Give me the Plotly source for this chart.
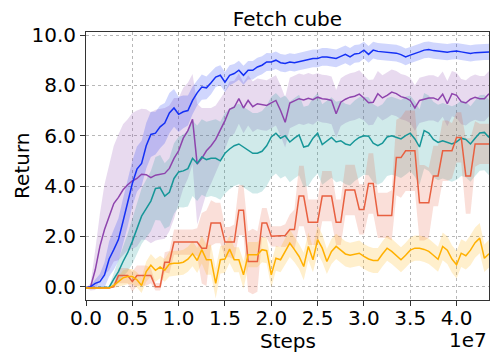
import plotly.graph_objects as go

# env steps, one sample every 5e5
steps = list(range(0, 44_000_000, 500_000))

blue_mean = [
    -0.05, 0.0, 0.13, 0.2, 0.47, 1.1, 1.47, 1.87, 2.6, 3.3,
    4.1, 4.67, 4.9, 5.6, 6.05, 6.1, 6.35, 6.5, 6.9, 7.1,
    6.85, 6.95, 7.0, 7.4, 7.7, 7.93, 7.9, 8.1, 8.33, 8.4,
    8.13, 8.4, 8.47, 8.6, 8.4, 8.6, 8.6, 8.73, 8.8, 8.93,
    8.93, 9.0, 8.9, 8.87, 8.93, 8.9, 8.95, 9.0, 9.05, 9.07,
    9.07, 9.13, 9.13, 9.1, 9.07, 9.15, 9.23, 9.13, 9.25, 9.27,
    9.4, 9.23, 9.4, 9.35, 9.33, 9.33, 9.3, 9.28, 9.22, 9.13,
    9.2, 9.28, 9.33, 9.4, 9.42, 9.38, 9.36, 9.33, 9.32, 9.35,
    9.36, 9.33, 9.3, 9.27, 9.3, 9.32, 9.33, 9.33,
]
blue_std = [
    0.0, 0.05, 0.15, 0.3, 0.5, 0.7, 0.8, 0.85, 0.9, 0.9,
    0.9, 0.9, 0.9, 0.9, 0.9, 0.85, 0.85, 0.8, 0.8, 0.75,
    0.7, 0.65, 0.6, 0.55, 0.5, 0.5, 0.45, 0.45, 0.4, 0.4,
    0.4, 0.4, 0.38, 0.38, 0.38, 0.37, 0.37, 0.37, 0.36, 0.36,
    0.35, 0.35, 0.35, 0.35, 0.35, 0.35, 0.35, 0.35, 0.35, 0.35,
    0.35, 0.35, 0.35, 0.35, 0.35, 0.35, 0.35, 0.35, 0.35, 0.35,
    0.33, 0.33, 0.33, 0.33, 0.33, 0.33, 0.33, 0.33, 0.33, 0.33,
    0.32, 0.32, 0.32, 0.32, 0.32, 0.32, 0.32, 0.32, 0.32, 0.32,
    0.32, 0.32, 0.32, 0.32, 0.32, 0.32, 0.32, 0.32,
]

purple_mean = [
    -0.05, 0.0, 0.67, 1.6, 2.27, 2.75, 3.3, 3.55, 3.85, 4.05,
    4.2, 4.3, 4.47, 4.45, 4.33, 4.43, 4.47, 4.5, 4.7, 5.1,
    5.4, 5.9, 6.2, 6.65, 4.87, 5.1, 5.4, 5.6, 5.85, 6.2,
    6.6, 7.05, 7.13, 7.47, 7.1, 7.4, 7.15, 7.27, 7.22, 7.2,
    7.3, 7.4, 7.0, 6.53, 7.3, 7.4, 7.47, 7.42, 7.49, 7.43,
    7.53, 7.47, 7.45, 7.4, 6.87, 7.33, 7.45, 7.53, 7.57, 7.65,
    7.5, 7.31, 7.33, 7.67, 7.5, 7.6, 7.73, 7.67, 7.55, 7.5,
    7.4, 7.1, 7.4, 7.45, 7.5, 7.5, 7.42, 7.65, 7.27, 7.67,
    7.6, 7.35, 7.3, 7.45, 7.53, 7.47, 7.47, 7.67,
]
purple_std = [
    0.0, 0.15, 0.8, 1.3, 1.8, 2.1, 2.3, 2.5, 2.6, 2.6,
    2.7, 2.7, 2.6, 2.6, 2.6, 2.6, 2.6, 2.6, 2.5, 2.4,
    2.1, 2.0, 1.9, 1.8, 2.4, 2.0, 1.7, 1.5, 1.35, 1.25,
    1.15, 1.1, 1.05, 1.0, 1.0, 1.0, 1.0, 1.0, 1.0, 1.0,
    1.0, 1.0, 1.0, 1.0, 1.0, 1.0, 1.0, 1.0, 1.0, 1.0,
    0.95, 0.95, 0.95, 0.95, 0.95, 0.95, 0.95, 0.95, 0.95, 0.95,
    0.9, 0.9, 0.9, 0.9, 0.9, 0.9, 0.9, 0.9, 0.9, 0.9,
    0.9, 0.9, 0.9, 0.9, 0.9, 0.9, 0.9, 0.9, 0.9, 0.9,
    0.9, 0.9, 0.9, 0.9, 0.9, 0.9, 0.9, 0.9,
]

teal_mean = [
    -0.05, -0.05, -0.05, -0.05, -0.05, -0.02, 0.3, 0.6, 1.0, 1.35,
    1.8, 2.27, 2.8, 3.1, 3.4, 3.9, 3.93, 3.6, 3.75, 4.3,
    4.56, 4.6, 4.69, 5.1, 4.9, 5.15, 5.05, 5.1, 5.1, 5.0,
    5.3, 5.47, 5.6, 5.67, 5.55, 5.4, 5.3, 5.3, 5.38, 5.6,
    5.95, 6.1, 5.9, 6.0, 5.75, 5.9, 6.03, 5.55, 5.6, 5.9,
    6.1, 5.65, 5.8, 5.93, 5.75, 5.8, 5.67, 5.62, 5.8, 5.93,
    6.0, 5.98, 5.7, 5.6, 5.7, 5.95, 6.0, 5.95, 5.87, 6.0,
    6.1, 5.87, 5.55, 6.2, 6.1, 5.85, 5.73, 5.8, 5.75, 5.67,
    5.75, 5.9, 5.85, 5.67, 5.9, 6.11, 6.13, 5.93,
]
teal_std = [
    0.0, 0.0, 0.0, 0.0, 0.0, 0.05, 0.25, 0.4, 0.6, 0.75,
    0.9, 1.0, 1.1, 1.15, 1.2, 1.25, 1.3, 1.3, 1.35, 1.4,
    1.4, 1.45, 1.5, 1.5, 1.5, 1.5, 1.5, 1.5, 1.55, 1.55,
    1.6, 1.6, 1.6, 1.6, 1.6, 1.6, 1.6, 1.6, 1.6, 1.6,
    1.6, 1.6, 1.6, 1.6, 1.6, 1.6, 1.6, 1.6, 1.6, 1.6,
    1.6, 1.6, 1.6, 1.6, 1.6, 1.6, 1.6, 1.6, 1.6, 1.6,
    1.55, 1.55, 1.55, 1.55, 1.55, 1.55, 1.55, 1.55, 1.55, 1.55,
    1.5, 1.5, 1.5, 1.5, 1.5, 1.5, 1.5, 1.5, 1.5, 1.5,
    1.5, 1.5, 1.5, 1.5, 1.5, 1.5, 1.5, 1.5,
]

red_mean = [
    -0.05, -0.05, -0.05, -0.05, -0.05, -0.05, 0.0, 0.44, 0.44, 0.44,
    0.2, 0.44, 0.44, 0.44, 0.44, 0.0, 0.0, 0.97, 0.97, 1.77,
    1.77, 1.77, 1.77, 1.77, 1.77, 1.53, 1.53, 2.53, 2.53, 2.53,
    1.77, 1.77, 1.77, 3.04, 3.04, 1.0, 1.0, 1.0, 2.53, 2.53,
    2.0, 2.0, 2.0, 2.03, 2.27, 2.27, 3.6, 3.6, 2.56, 2.56,
    2.56, 3.6, 3.6, 3.6, 2.56, 2.56, 3.84, 3.84, 3.84, 3.07,
    3.07, 4.1, 4.1, 2.83, 2.83, 2.83, 2.83, 5.13, 5.13, 5.4,
    5.4, 5.4, 3.33, 3.33, 3.33, 4.4, 4.4, 5.4, 5.4, 5.4,
    5.93, 5.93, 4.4, 4.4, 5.67, 5.67, 5.67, 5.67,
]
red_std = [
    0.0, 0.0, 0.0, 0.0, 0.0, 0.0, 0.05, 0.3, 0.3, 0.3,
    0.4, 0.4, 0.4, 0.4, 0.3, 0.15, 0.15, 0.4, 0.45, 0.5,
    0.5, 0.5, 0.5, 0.5, 0.55, 1.4, 1.5, 0.9, 0.8, 0.8,
    0.6, 0.6, 0.7, 1.0, 1.0, 1.2, 1.3, 1.2, 0.6, 0.6,
    0.4, 0.4, 0.4, 0.45, 0.6, 0.8, 1.2, 1.2, 0.9, 0.9,
    0.9, 1.0, 1.0, 1.0, 0.9, 0.9, 1.0, 1.0, 1.0, 1.0,
    1.0, 1.2, 1.2, 0.9, 0.9, 0.9, 1.0, 1.5, 1.6, 1.6,
    1.6, 1.6, 1.5, 1.5, 1.4, 1.2, 1.2, 1.2, 1.2, 1.1,
    1.0, 1.0, 1.5, 1.5, 0.9, 0.8, 0.8, 0.8,
]

orange_mean = [
    -0.05, -0.05, -0.05, -0.05, -0.05, -0.05, 0.05, 0.2, 0.35, 0.4,
    0.4, 0.27, 0.05, 0.6, 0.85, 0.65, 0.78, 0.65, 0.9, 0.93,
    0.93, 0.97, 1.09, 1.31, 1.04, 1.47, 1.07, 1.07, 0.13, 1.07,
    1.1, 1.49, 1.07, 1.07, 0.47, 1.27, 1.27, 1.27, 1.47, 1.43,
    0.47, 1.13, 1.07, 1.4, 1.73, 1.47, 1.2, 0.8, 1.6, 1.07,
    1.87, 1.53, 1.0, 1.4, 1.6, 1.45, 1.3, 1.25, 1.3, 1.33,
    1.2, 1.1, 1.04, 1.04, 1.3, 1.53, 1.4, 1.25, 1.07, 1.25,
    1.45, 1.53, 1.53, 1.48, 1.4, 1.25, 1.09, 1.6, 1.45, 1.1,
    0.87, 1.33, 1.23, 1.45, 1.75, 1.93, 1.13, 1.31,
]
orange_std = [
    0.0, 0.0, 0.0, 0.0, 0.0, 0.0, 0.1, 0.2, 0.3, 0.3,
    0.3, 0.3, 0.3, 0.4, 0.45, 0.45, 0.45, 0.45, 0.5, 0.5,
    0.5, 0.5, 0.5, 0.5, 0.5, 0.55, 0.6, 0.6, 0.6, 0.55,
    0.55, 0.55, 0.5, 0.5, 0.55, 0.5, 0.5, 0.5, 0.5, 0.5,
    0.5, 0.5, 0.5, 0.55, 0.55, 0.5, 0.5, 0.55, 0.55, 0.5,
    0.55, 0.55, 0.5, 0.5, 0.5, 0.5, 0.5, 0.5, 0.5, 0.5,
    0.5, 0.5, 0.5, 0.5, 0.5, 0.5, 0.5, 0.5, 0.5, 0.5,
    0.5, 0.5, 0.5, 0.5, 0.5, 0.5, 0.5, 0.55, 0.55, 0.55,
    0.55, 0.55, 0.55, 0.6, 0.6, 0.6, 0.55, 0.55,
]

series = [
    ("purple", purple_mean, purple_std, "rgb(142,68,173)"),
    ("blue", blue_mean, blue_std, "rgb(20,48,245)"),
    ("teal", teal_mean, teal_std, "rgb(22,150,152)"),
    ("red", red_mean, red_std, "rgb(232,96,64)"),
    ("orange", orange_mean, orange_std, "rgb(255,176,0)"),
]

fig = go.Figure()
for name, mean, std, col in series:
    lo = [m - s for m, s in zip(mean, std)]
    hi = [m + s for m, s in zip(mean, std)]
    fill = col.replace("rgb", "rgba").replace(")", ",0.2)")
    fig.add_trace(go.Scatter(x=steps, y=lo, mode="lines", line=dict(width=0),
                             showlegend=False, hoverinfo="skip"))
    fig.add_trace(go.Scatter(x=steps, y=hi, mode="lines", line=dict(width=0),
                             fill="tonexty", fillcolor=fill,
                             showlegend=False, hoverinfo="skip"))
for name, mean, std, col in series:
    fig.add_trace(go.Scatter(x=steps, y=mean, mode="lines", name=name,
                             line=dict(color=col, width=1.5), showlegend=False))

font = dict(family="DejaVu Sans", size=20, color="black")
axis_common = dict(
    showline=True, linecolor="#333", linewidth=1, mirror=True,
    ticks="outside", ticklen=5, tickcolor="#333",
    showgrid=True, gridcolor="#b8b8b8", griddash="dot", gridwidth=1,
    zeroline=False, tickfont=font,
)
fig.update_xaxes(
    range=[0, 4.35e7],
    tickvals=[i * 5e6 for i in range(9)],
    ticktext=["0.0", "0.5", "1.0", "1.5", "2.0", "2.5", "3.0", "3.5", "4.0"],
    ticklabelstandoff=-5,
    **axis_common,
)
fig.update_yaxes(
    range=[-0.53, 10.12],
    tickvals=[0, 2, 4, 6, 8, 10],
    ticktext=["0.0", "2.0", "4.0", "6.0", "8.0", "10.0"],
    **axis_common,
)

# page body adds an 8px margin, so the figure is drawn 8px smaller
fig.update_layout(
    width=492, height=354,
    margin=dict(l=78, r=11, t=24, b=62),
    plot_bgcolor="white", paper_bgcolor="white",
    font=font,
    title=dict(text="Fetch cube", x=0.5, xref="paper", y=1 - 11 / 354,
               yref="container", yanchor="middle", xanchor="center",
               font=font),
    annotations=[
        dict(text="Steps", xref="paper", yref="paper", x=0.5, y=-0.152,
             xanchor="center", yanchor="middle", showarrow=False, font=font),
        dict(text="1e7", xref="paper", yref="paper", x=1.0, y=-0.148,
             xanchor="right", yanchor="middle", showarrow=False, font=font),
        dict(text="Return", xref="paper", yref="paper", x=-0.159, y=0.5,
             xanchor="center", yanchor="middle", textangle=-90,
             showarrow=False, font=font),
    ],
)

fig.write_html("out.html")
